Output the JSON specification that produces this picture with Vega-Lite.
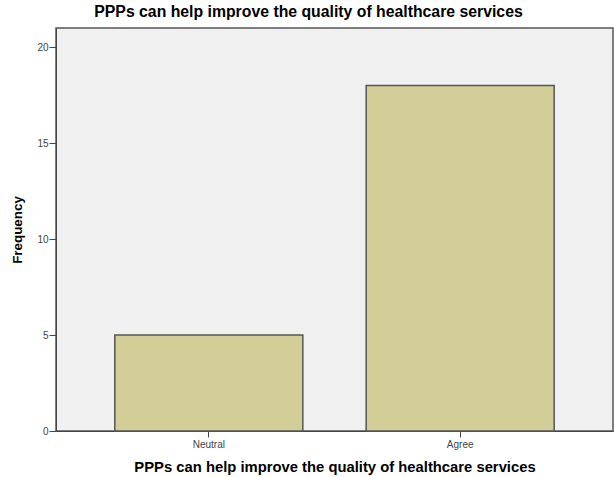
{
  "$schema": "https://vega.github.io/schema/vega-lite/v6.json",
  "width": 557,
  "height": 403,
  "autosize": {"type": "none"},
  "padding": {"left": 56, "top": 28, "right": 1, "bottom": 46},
  "background": "white",
  "title": {
    "text": "PPPs can help improve the quality of healthcare services",
    "font": "Liberation Sans",
    "fontSize": 15.8,
    "fontWeight": "bold",
    "color": "black",
    "offset": 7,
    "anchor": "middle",
    "frame": "group",
    "dx": -26
  },
  "data": {
    "values": [
      {"response": "Neutral", "frequency": 5},
      {"response": "Agree", "frequency": 18}
    ]
  },
  "config": {
    "view": {"fill": "#f0f0f0", "stroke": "#555555", "strokeWidth": 1.5},
    "axis": {"grid": false, "domainColor": "#444444", "tickColor": "#444444", "labelFont": "Liberation Sans", "titleFont": "Liberation Sans", "labelColor": "#444444", "titleColor": "black"}
  },
  "mark": {"type": "bar", "fill": "#d3ce98", "stroke": "#555555", "strokeWidth": 1.5},
  "encoding": {
    "x": {
      "field": "response",
      "type": "nominal",
      "sort": ["Neutral", "Agree"],
      "scale": {"paddingInner": 0.252, "paddingOuter": 0.234},
      "axis": {
        "title": "PPPs can help improve the quality of healthcare services",
        "titleFontSize": 14.8,
        "titleFontWeight": "bold",
        "titlePadding": 10,
        "labelAngle": 0,
        "labelFontSize": 10,
        "tickSize": 6,
        "labelPadding": 2
      }
    },
    "y": {
      "field": "frequency",
      "type": "quantitative",
      "scale": {"domain": [0, 21], "nice": false},
      "axis": {
        "title": "Frequency",
        "titleFontSize": 13.4,
        "titleFontWeight": "bold",
        "titlePadding": 12,
        "values": [0, 5, 10, 15, 20],
        "labelFontSize": 10,
        "tickSize": 7,
        "labelPadding": 1
      }
    }
  }
}
